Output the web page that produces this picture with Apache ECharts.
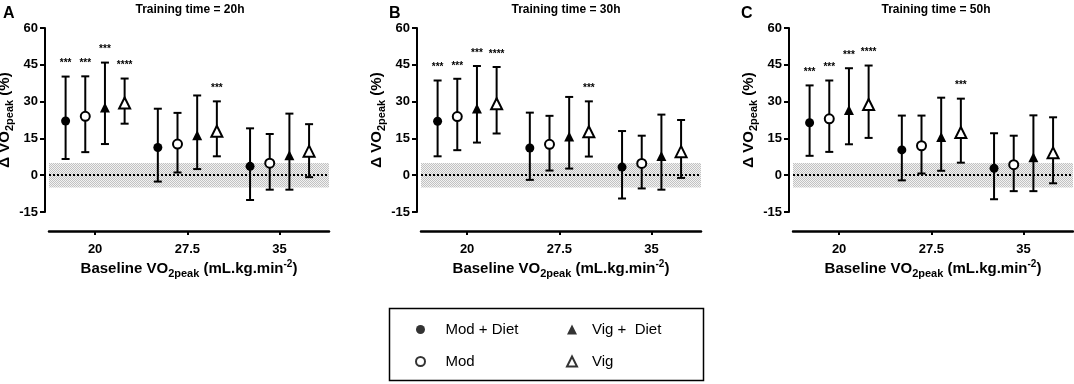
<!DOCTYPE html>
<html>
<head>
<meta charset="utf-8">
<title>Change in VO2peak by baseline VO2peak</title>
<script src="https://cdn.jsdelivr.net/npm/echarts@6.0.0/dist/echarts.min.js"></script>
<style>
html, body { margin: 0; padding: 0; background: #fff; }
#wrap { position: relative; width: 1074px; height: 384px; }
#chart, #overlay { position: absolute; left: 0; top: 0; width: 1074px; height: 384px; }
#overlay { pointer-events: none; }
</style>
</head>
<body>
<div id="wrap">
    <div id="chart"></div>
    <div id="overlay"></div>
</div>
<script>
// x axis: baseline VO2peak groups
var baselines = [20, 27.5, 35];
// series, same order in every panel
var groupNames = ['Mod + Diet', 'Mod', 'Vig +  Diet', 'Vig'];
var panelTitles = ['Training time = 20h', 'Training time = 30h', 'Training time = 50h'];
var panelLetters = ['A', 'B', 'C'];

// A - 20h (rows: Mod+Diet, Mod, Vig+Diet, Vig ; cols: 20, 27.5, 35)
var meanA = [[22.1, 11.3, 3.6], [24.0, 12.7, 4.9], [27.6, 16.3, 8.1], [29.4, 17.9, 9.8]];
var lowA = [[6.6, -2.6, -10.1], [9.4, 1.1, -5.9], [12.7, 2.5, -5.9], [21.0, 7.7, -0.8]];
var highA = [[40.2, 27.1, 19.1], [40.3, 25.4, 16.8], [45.9, 32.5, 25.1], [39.4, 30.1, 20.8]];
var starsA = [['***', '', ''], ['***', '', ''], ['***', '', ''], ['****', '***', '']];

// B - 30h
var meanB = [[22.0, 11.1, 3.3], [23.9, 12.6, 4.8], [27.2, 15.8, 7.8], [29.1, 17.7, 9.6]];
var lowB = [[7.7, -1.9, -9.5], [10.2, 1.9, -5.4], [13.3, 2.7, -5.9], [17.0, 7.6, -1.1]];
var highB = [[38.6, 25.5, 18.0], [39.3, 24.2, 16.1], [44.5, 31.9, 24.7], [44.1, 30.1, 22.5]];
var starsB = [['***', '', ''], ['***', '', ''], ['***', '', ''], ['****', '***', '']];

// C - 50h
var meanC = [[21.4, 10.3, 2.8], [23.0, 12.0, 4.3], [26.6, 15.6, 7.3], [28.8, 17.4, 9.1]];
var lowC = [[7.9, -2.1, -9.8], [9.5, 0.7, -6.5], [12.6, 1.8, -6.5], [15.2, 5.1, -3.3]];
var highC = [[36.6, 24.3, 17.1], [38.6, 24.3, 16.1], [43.6, 31.6, 24.4], [44.7, 31.2, 23.6]];
var starsC = [['***', '', ''], ['***', '', ''], ['***', '', ''], ['****', '***', '']];

var panels = [
    {mean: meanA, low: lowA, high: highA, stars: starsA},
    {mean: meanB, low: lowB, high: highB, stars: starsB},
    {mean: meanC, low: lowC, high: highC, stars: starsC}
];

// layout
var FONT = 'Arial, "Liberation Sans", sans-serif';
var gridLeft = [49, 421, 793];
var titleX = [190, 566, 936];
var letterX = [3, 389, 741];
var dodge = [-2.4, -0.8, 0.8, 2.4];
var symbols = ['circle', 'emptyCircle', 'triangle', 'emptyTriangle'];
var symbolSizes = [9, 9, 10, 11];

// grey dotted band (+-5 %)
function makePattern() {
    var c = document.createElement('canvas');
    c.width = 2;
    c.height = 2;
    var ctx = c.getContext('2d');
    ctx.fillStyle = '#f2f2f2';
    ctx.fillRect(0, 0, 2, 2);
    ctx.fillStyle = '#c2c2c2';
    ctx.fillRect(0, 0, 1, 1);
    ctx.fillRect(1, 1, 1, 1);
    return c;
}
var bandPattern = makePattern();

// error bar + significance stars
function barRenderer(stars) {
    return function (params, api) {
        var x = api.value(0);
        var top = api.coord([x, api.value(2)]);
        var bot = api.coord([x, api.value(1)]);
        var cap = 4;
        var st = {stroke: '#000', lineWidth: 2};
        var kids = [
            {type: 'line', shape: {x1: top[0], y1: top[1], x2: bot[0], y2: bot[1]}, style: st},
            {type: 'line', shape: {x1: top[0] - cap, y1: top[1], x2: top[0] + cap, y2: top[1]}, style: st},
            {type: 'line', shape: {x1: bot[0] - cap, y1: bot[1], x2: bot[0] + cap, y2: bot[1]}, style: st}
        ];
        var s = stars[params.dataIndex];
        if (s) {
            kids.push({
                type: 'text',
                x: top[0],
                y: top[1] - 8,
                style: {text: s, textAlign: 'center', textVerticalAlign: 'bottom', font: 'bold 10px ' + FONT, fill: '#000'}
            });
        }
        return {type: 'group', children: kids};
    };
}

var nameRich = {
    a: {fontSize: 15, fontWeight: 'bold', fontFamily: FONT, color: '#000'},
    s: {fontSize: 11, fontWeight: 'bold', fontFamily: FONT, color: '#000', padding: [9, 0, 0, 0]},
    p: {fontSize: 10, fontWeight: 'bold', fontFamily: FONT, color: '#000', padding: [0, 0, 9, 0]}
};

var grids = [], xAxes = [], yAxes = [], series = [], titles = [];

for (var p = 0; p < panels.length; p++) {
    var d = panels[p];
    // fixed grid box, no auto shrinking to fit labels
    grids.push({left: gridLeft[p], top: 28, width: 280, height: 184, outerBoundsMode: 'none'});
    xAxes.push({
        type: 'value',
        gridIndex: p,
        min: 16.25,
        max: 39.02,
        offset: 19,
        axisLine: {onZero: false, lineStyle: {color: '#000', width: 2.5}},
        axisTick: {show: true, customValues: baselines, length: 4, lineStyle: {color: '#000', width: 2}},
        axisLabel: {customValues: baselines, margin: 12, fontSize: 13, fontWeight: 'bold', color: '#000', fontFamily: FONT},
        splitLine: {show: false},
        name: '{a|Baseline VO}{s|2peak}{a| (mL.kg.min}{p|-2}{a|)}',
        nameLocation: 'middle',
        nameGap: 28,
        nameTextStyle: {rich: nameRich}
    });
    yAxes.push({
        type: 'value',
        gridIndex: p,
        min: -15,
        max: 60,
        interval: 15,
        offset: 4,
        axisLine: {show: true, lineStyle: {color: '#000', width: 2}},
        axisTick: {show: true, length: 5, lineStyle: {color: '#000', width: 2}},
        axisLabel: {margin: 7, fontSize: 13, fontWeight: 'bold', color: '#000', fontFamily: FONT},
        splitLine: {show: false},
        name: '{a|\u0394 VO}{s|2peak}{a| (%)}',
        nameLocation: 'middle',
        nameGap: 20,
        nameTextStyle: {rich: nameRich}
    });

    // reference band and dotted zero line
    series.push({
        type: 'line',
        name: 'ref' + p,
        xAxisIndex: p,
        yAxisIndex: p,
        data: [],
        z: 1,
        markArea: {
            silent: true,
            itemStyle: {color: {image: bandPattern, repeat: 'repeat'}, opacity: 1},
            data: [[{yAxis: -5}, {yAxis: 5}]]
        },
        markLine: {
            silent: true,
            symbol: ['none', 'none'],
            label: {show: false},
            lineStyle: {color: '#000', type: [2, 2], width: 2},
            data: [{yAxis: 0}]
        }
    });

    for (var k = 0; k < groupNames.length; k++) {
        var bars = [], pts = [];
        for (var i = 0; i < baselines.length; i++) {
            bars.push([baselines[i] + dodge[k], d.low[k][i], d.high[k][i]]);
            pts.push([baselines[i] + dodge[k], d.mean[k][i]]);
        }
        series.push({
            type: 'custom',
            name: groupNames[k] + ' range',
            xAxisIndex: p,
            yAxisIndex: p,
            z: 2,
            silent: true,
            encode: {x: 0, y: [1, 2]},
            renderItem: barRenderer(d.stars[k]),
            data: bars
        });
        series.push({
            type: 'scatter',
            name: groupNames[k],
            xAxisIndex: p,
            yAxisIndex: p,
            z: 3,
            symbol: symbols[k],
            symbolSize: symbolSizes[k],
            itemStyle: {color: '#000', opacity: 1},
            data: pts
        });
    }

    titles.push({
        text: panelTitles[p], left: titleX[p], top: 4, textAlign: 'center', padding: 0,
        textStyle: {fontSize: 12, fontWeight: 'bold', color: '#000', fontFamily: FONT}
    });
    titles.push({
        text: panelLetters[p], left: letterX[p], top: 6, padding: 0,
        textStyle: {fontSize: 16, fontWeight: 'bold', color: '#000', fontFamily: FONT}
    });
}

// main chart: axes, bands, bars and points
var chart = echarts.init(document.getElementById('chart'));
chart.setOption({
    animation: false,
    grid: grids,
    xAxis: xAxes,
    yAxis: yAxes,
    series: series
});

// overlay: panel titles, letters and the boxed legend
// (kept in a second instance, the y axis lines dropped out when these shared the first one)
var keySeries = [];
for (var k = 0; k < groupNames.length; k++) {
    keySeries.push({type: 'scatter', name: groupNames[k], symbol: symbols[k], itemStyle: {color: '#000'}, data: []});
}
var overlay = echarts.init(document.getElementById('overlay'));
overlay.setOption({
    animation: false,
    title: titles,
    grid: {left: 0, top: 0, width: 1, height: 1, show: false},
    xAxis: {show: false},
    yAxis: {show: false},
    legend: [
        {data: [groupNames[0], groupNames[1]], orient: 'vertical', left: 415, top: 322, padding: 0,
            itemWidth: 10, itemHeight: 9, itemGap: 17, selectedMode: false,
            textStyle: {fontSize: 15, color: '#000', fontFamily: FONT, padding: [0, 0, 0, 15]}},
        {data: [groupNames[2], groupNames[3]], orient: 'vertical', left: 566, top: 322, padding: 0,
            itemWidth: 10, itemHeight: 10, itemGap: 17, selectedMode: false,
            textStyle: {fontSize: 15, color: '#000', fontFamily: FONT, padding: [0, 0, 0, 10]}}
    ],
    graphic: [{
        type: 'rect',
        shape: {x: 389.5, y: 308.5, width: 314, height: 72},
        style: {fill: 'none', stroke: '#000', lineWidth: 1.5},
        silent: true
    }],
    series: keySeries
});
</script>
</body>
</html>
